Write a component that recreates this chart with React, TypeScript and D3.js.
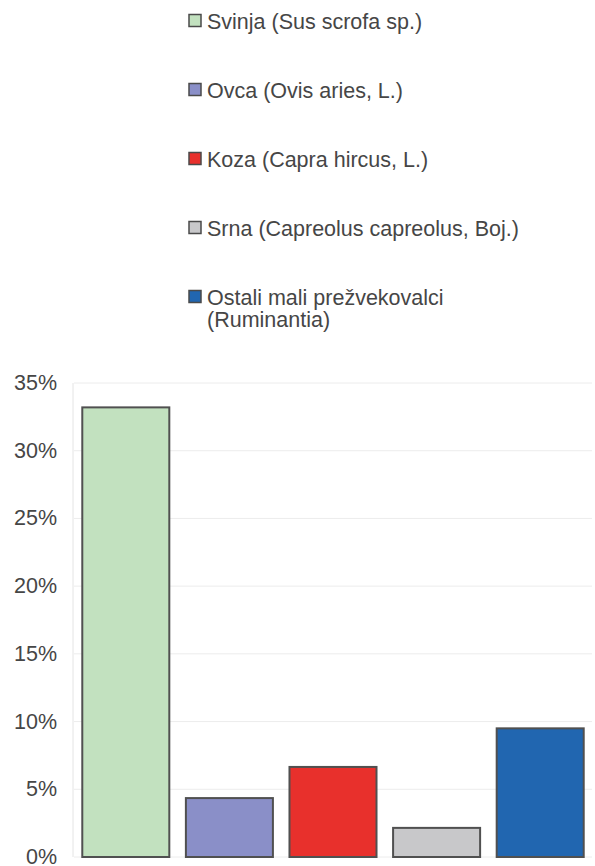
import React from "react";
import * as d3 from "d3";

const categories = [
  "Svinja (Sus scrofa sp.)",
  "Ovca (Ovis aries, L.)",
  "Koza (Capra hircus, L.)",
  "Srna (Capreolus capreolus, Boj.)",
  "Ostali mali prežvekovalci (Ruminantia)",
];
const legendLines = [
  ["Svinja (Sus scrofa sp.)"],
  ["Ovca (Ovis aries, L.)"],
  ["Koza (Capra hircus, L.)"],
  ["Srna (Capreolus capreolus, Boj.)"],
  ["Ostali mali prežvekovalci", "(Ruminantia)"],
];
const values = [33.2, 4.35, 6.65, 2.15, 9.5];
const colors = ["#c2e1bf", "#8a8fc8", "#e8302c", "#c8c8ca", "#2166b0"];
const yTicks = [0, 5, 10, 15, 20, 25, 30, 35];

export default function App() {
  const W = 595;
  const H = 866;
  const left = 74;
  const right = 592;
  const top = 383;
  const bottom = 857;
  const font = "'Liberation Sans', Arial, sans-serif";

  const x = d3.scaleBand<string>().domain(categories).range([left, right]).paddingInner(0.16).paddingOuter(0.08);
  const y = d3.scaleLinear().domain([0, 35]).range([bottom, top]);

  return (
    <div style={{ position: "absolute", left: 0, top: 0 }}>
      <svg width={W} height={H} style={{ display: "block", background: "#fff" }}>
        {/* legend */}
        {legendLines.map((lines, i) => {
          const cy = 21 + i * 69;
          return (
            <g key={i}>
              <rect x={189} y={cy - 6.5} width={12} height={12} fill={colors[i]} stroke="#4a4a4a" strokeWidth={1.5} />
              {lines.map((t, j) => (
                <text key={j} x={207} y={cy + 8 + j * 22} fontFamily={font} fontSize={21.5} fill="#464646">
                  {t}
                </text>
              ))}
            </g>
          );
        })}
        {/* gridlines */}
        {yTicks.map((t) => (
          <line key={t} x1={left} x2={right} y1={y(t)} y2={y(t)} stroke="#ececec" strokeWidth={1} />
        ))}
        <line x1={left - 1} x2={left - 1} y1={top} y2={bottom} stroke="#e4e4e4" strokeWidth={1} />
        {/* y labels */}
        {yTicks.map((t) => (
          <text key={t} x={57} y={y(t) + 7} textAnchor="end" fontFamily={font} fontSize={21.5} fill="#464646">
            {t}%
          </text>
        ))}
        {/* bars */}
        {categories.map((c, i) => (
          <rect
            key={c}
            x={x(c)!}
            y={y(values[i])}
            width={x.bandwidth()}
            height={y(0) - y(values[i])}
            fill={colors[i]}
            stroke="#505050"
            strokeWidth={2}
          />
        ))}
      </svg>
    </div>
  );
}
